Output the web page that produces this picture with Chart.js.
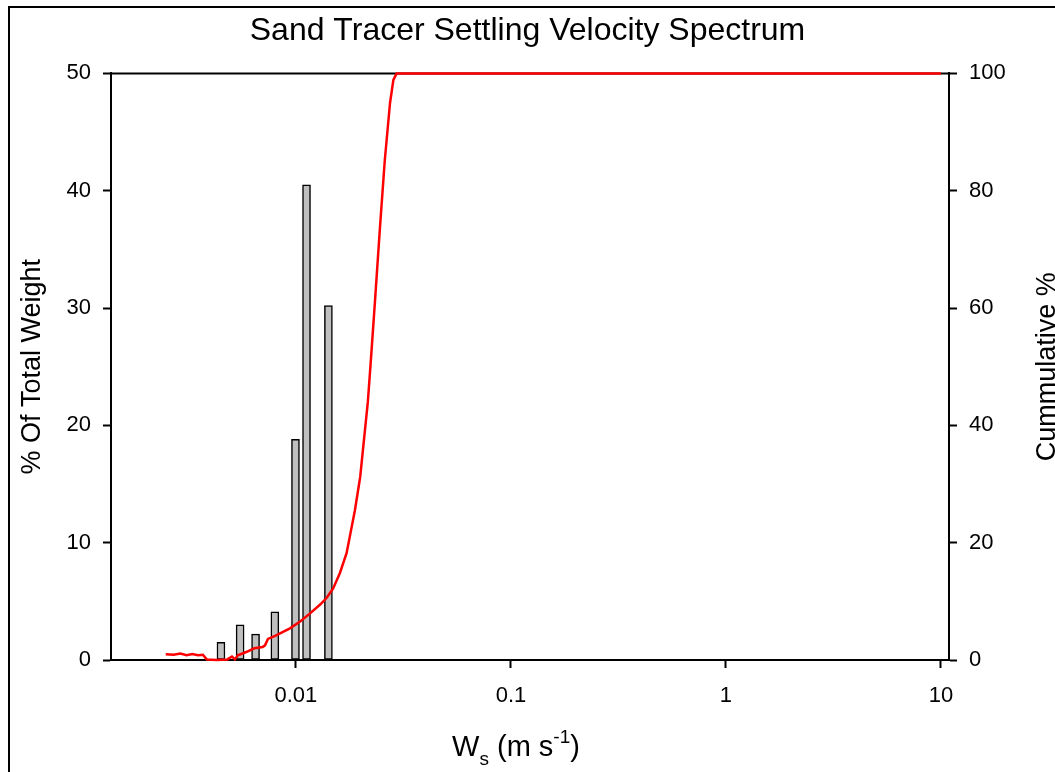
<!DOCTYPE html>
<html lang="en">
<head>
  <meta charset="UTF-8">
  <title>Sand Tracer Settling Velocity Spectrum</title>
  <script src="https://cdn.jsdelivr.net/npm/chart.js"></script>
  <style>
    body { margin: 0; background: #fff; overflow: hidden; }
    canvas { display: block; }
  </style>
</head>
<body>
  <canvas id="chart" width="1055" height="772"></canvas>

  <script>
    // histogram bars (% of total weight)
    const barVelocity = [0.00448, 0.0055, 0.00649, 0.00798, 0.00995, 0.0112, 0.01416];
    const barWeight = [1.5, 3.0, 2.2, 4.1, 18.8, 40.5, 30.2];

    // cumulative curve
    const cumVelocity = [0.00248, 0.0027, 0.0029, 0.0031, 0.0033, 0.0035, 0.00369, 0.00385, 0.0043, 0.0048,
      0.00504, 0.0052, 0.00537, 0.00591, 0.0064, 0.0070, 0.00718, 0.00741, 0.0080, 0.00938,
      0.0105, 0.0116, 0.0130, 0.0139, 0.0149, 0.0160, 0.0172, 0.0188, 0.0199, 0.0216,
      0.0223, 0.0233, 0.0246, 0.0259, 0.0274, 0.0284, 0.0294, 10];
    const cumPercent = [1.0, 0.9, 1.1, 0.8, 1.0, 0.8, 0.9, 0.1, 0.0, 0.1,
      0.6, 0.1, 0.8, 1.4, 2.0, 2.2, 2.5, 3.6, 4.1, 5.4,
      6.6, 7.9, 9.5, 10.6, 12.2, 14.8, 18.2, 25.5, 31.2, 44,
      51, 61, 73.8, 85.2, 95, 98.9, 100, 100];

    const xTicks = [0.01, 0.1, 1, 10];
    const FONT = '"Liberation Sans", Arial, sans-serif';

    // frame, top border line, x title with sub/superscript, right axis title
    const extras = {
      id: 'extras',
      beforeDatasetsDraw(chart) {
        const ctx = chart.ctx;
        const a = chart.chartArea;
        ctx.save();
        ctx.strokeStyle = '#000';
        ctx.lineWidth = 2;
        ctx.beginPath();
        ctx.moveTo(a.left, a.top);
        ctx.lineTo(a.right, a.top);
        ctx.stroke();
        ctx.restore();
      },
      afterDraw(chart) {
        const ctx = chart.ctx;
        const a = chart.chartArea;
        ctx.save();
        ctx.fillStyle = '#000';
        ctx.fillRect(8, 6, 1047, 2);
        ctx.fillRect(8, 6, 2, 766);

        // x axis title: W_s (m s^-1)
        const big = '29px ' + FONT, small = '19px ' + FONT;
        const parts = [
          { t: 'W', f: big, dy: 0 },
          { t: 's', f: small, dy: 9 },
          { t: ' (m s', f: big, dy: 0 },
          { t: '-1', f: small, dy: -13 },
          { t: ')', f: big, dy: 0 }
        ];
        let total = 0;
        parts.forEach(p => { ctx.font = p.f; p.w = ctx.measureText(p.t).width; total += p.w; });
        let x = 516 - total / 2;
        const base = 756;
        ctx.textBaseline = 'alphabetic';
        ctx.textAlign = 'left';
        parts.forEach(p => { ctx.font = p.f; ctx.fillText(p.t, x, base + p.dy); x += p.w; });

        // right axis title
        ctx.translate(1048, (a.top + a.bottom) / 2);
        ctx.rotate(-Math.PI / 2);
        ctx.font = '27px ' + FONT;
        ctx.textAlign = 'center';
        ctx.textBaseline = 'middle';
        ctx.fillText('Cummulative %', 0, 0);
        ctx.restore();
      }
    };

    new Chart(document.getElementById('chart').getContext('2d'), {
      data: {
        datasets: [
          {
            type: 'line',
            label: 'Cumulative',
            data: cumVelocity.map((v, i) => ({ x: v, y: cumPercent[i] })),
            yAxisID: 'y2',
            borderColor: '#ff0000',
            borderWidth: 2.5,
            pointRadius: 0,
            tension: 0,
            clip: 4,
            order: 0
          },
          {
            type: 'bar',
            label: 'Weight',
            data: barVelocity.map((v, i) => ({ x: v, y: barWeight[i] })),
            yAxisID: 'y',
            backgroundColor: '#bfbfbf',
            borderColor: '#000',
            borderWidth: 1.5,
            borderSkipped: false,
            barThickness: 8,
            order: 1
          }
        ]
      },
      options: {
        responsive: false,
        animation: false,
        layout: { padding: 0 },
        plugins: {
          legend: { display: false },
          tooltip: { enabled: false },
          title: {
            display: true,
            text: 'Sand Tracer Settling Velocity Spectrum',
            color: '#000',
            font: { family: FONT, size: 32, weight: 'normal' },
            padding: { top: 12, bottom: 23 }
          }
        },
        scales: {
          x: {
            type: 'logarithmic',
            min: 0.00138,
            max: 10.9,
            offset: false,
            afterBuildTicks: s => { s.ticks = xTicks.map(v => ({ value: v, major: true })); },
            afterFit: s => { s.height = 112; },
            ticks: {
              color: '#000',
              font: { family: FONT, size: 22 },
              padding: 15,
              maxRotation: 0,
              autoSkip: false,
              callback: v => String(v)
            },
            grid: { offset: false, drawOnChartArea: false, tickLength: 8, tickColor: '#000', tickWidth: 2 },
            border: { color: '#000', width: 2 }
          },
          y: {
            position: 'left',
            min: 0,
            max: 50,
            afterFit: s => { s.width = 111; },
            ticks: { stepSize: 10, color: '#000', font: { family: FONT, size: 22 }, padding: 12 },
            grid: { drawOnChartArea: false, tickLength: 8, tickColor: '#000', tickWidth: 2 },
            border: { color: '#000', width: 2 },
            title: {
              display: true,
              text: '% Of Total Weight',
              color: '#000',
              font: { family: FONT, size: 27 },
              padding: { top: 16, bottom: 0 }
            }
          },
          y2: {
            position: 'right',
            min: 0,
            max: 100,
            afterFit: s => { s.width = 106; },
            ticks: { stepSize: 20, color: '#000', font: { family: FONT, size: 22 }, padding: 12 },
            grid: { drawOnChartArea: false, tickLength: 8, tickColor: '#000', tickWidth: 2 },
            border: { color: '#000', width: 2 }
          }
        }
      },
      plugins: [extras]
    });
  </script>
</body>
</html>
